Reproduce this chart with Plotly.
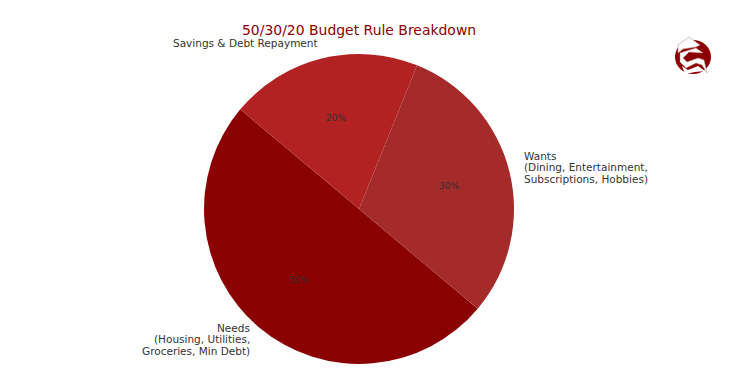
import math
import plotly.graph_objects as go

W, H = 750, 375
categories = ["Needs", "Wants", "Savings & Debt Repayment"]
label_lines = [
    ["Needs", "(Housing, Utilities,", "Groceries, Min Debt)"],
    ["Wants", "(Dining, Entertainment,", "Subscriptions, Hobbies)"],
    ["Savings & Debt Repayment"],
]
values = [50, 30, 20]
colors = ["#8B0000", "#A52A2A", "#B22222"]
title_text = "50/30/20 Budget Rule Breakdown"
START = 310  # degrees clockwise from 12 o'clock where the first slice begins
CX, CY, R = 359, 209, 155


def px(x):
    return x / W


def py(y):
    return 1 - y / H


def path(points):
    return "M " + " L ".join(f"{px(x):.4f},{py(y):.4f}" for x, y in points) + " Z"


fig = go.Figure(go.Pie(
    labels=categories, values=values, sort=False, direction="counterclockwise",
    rotation=START - 180, marker=dict(colors=colors, line=dict(width=0)),
    textinfo="none", hoverinfo="label+percent", showlegend=False,
    domain=dict(x=[px(CX - R), px(CX + R)], y=[py(CY + R), py(CY - R)]),
))

annotations = [dict(
    text=title_text, x=px(358.7), y=py(29.5), xref="paper", yref="paper",
    showarrow=False, xanchor="center", yanchor="middle",
    font=dict(family="DejaVu Sans", size=13.95, color="#8B0000"),
)]

LINE = 11.7
total = sum(values)
cum = 0
for value, lines in zip(values, label_lines):
    mid = START - (cum + value / 2) / total * 360
    cum += value
    a = math.radians(mid)
    sx, sy = math.sin(a), -math.cos(a)
    # percentage at 60% of radius
    annotations.append(dict(
        text=f"{value / total:.0%}", x=px(CX + 0.6 * R * sx - 0.5), y=py(CY + 0.6 * R * sy - 0.5),
        xref="paper", yref="paper", showarrow=False, xanchor="center", yanchor="middle",
        font=dict(family="DejaVu Sans", size=9, color="#3a3030"),
    ))
    # outer label at 110% of radius, vertically centred on that point
    anchor = "left" if sx > 0 else "right"
    lx = CX + 1.1 * R * sx + (-2 if sx > 0 else 2.4)
    ly = CY + 1.1 * R * sy - 0.4
    base = ly - (len(lines) - 1) * LINE / 2
    for i, line in enumerate(lines):
        annotations.append(dict(
            text=line, x=px(lx), y=py(base + i * LINE), xref="paper", yref="paper",
            showarrow=False, xanchor=anchor, yanchor="middle",
            font=dict(family="DejaVu Sans", size=10.5, color="#333333"),
        ))

# small decorative logo, top right
shapes = [
    dict(type="circle", xref="paper", yref="paper", x0=px(675), x1=px(711),
         y0=py(74), y1=py(40), fillcolor="#8B0000", line=dict(width=0), layer="above"),
    dict(type="path", xref="paper", yref="paper", layer="above",
         path=path([(678, 45), (689, 37), (700, 45), (696, 47), (683, 49), (678, 53)]),
         fillcolor="white", line=dict(color="#c09090", width=0.6)),
    dict(type="path", xref="paper", yref="paper", layer="above",
         path=path([(680, 53), (696, 48), (703, 53), (689, 52), (683, 58), (687, 62),
                    (698, 58), (704, 60), (707, 73), (702, 65), (696, 63), (686, 68), (680, 62)]),
         fillcolor="white", line=dict(color="#c09090", width=0.5)),
    dict(type="path", xref="paper", yref="paper", layer="above",
         path=path([(682, 66), (688, 70), (698, 66), (705, 71), (695, 72), (685, 74)]),
         fillcolor="white", line=dict(width=0)),
]

fig.update_layout(
    width=W, height=H, margin=dict(l=0, r=0, t=0, b=0),
    paper_bgcolor="white", plot_bgcolor="white",
    annotations=annotations, shapes=shapes,
)
fig.write_html("out.html", config=dict(displayModeBar=False),
               post_script="document.body.style.margin='0';document.documentElement.style.overflow='hidden';")
